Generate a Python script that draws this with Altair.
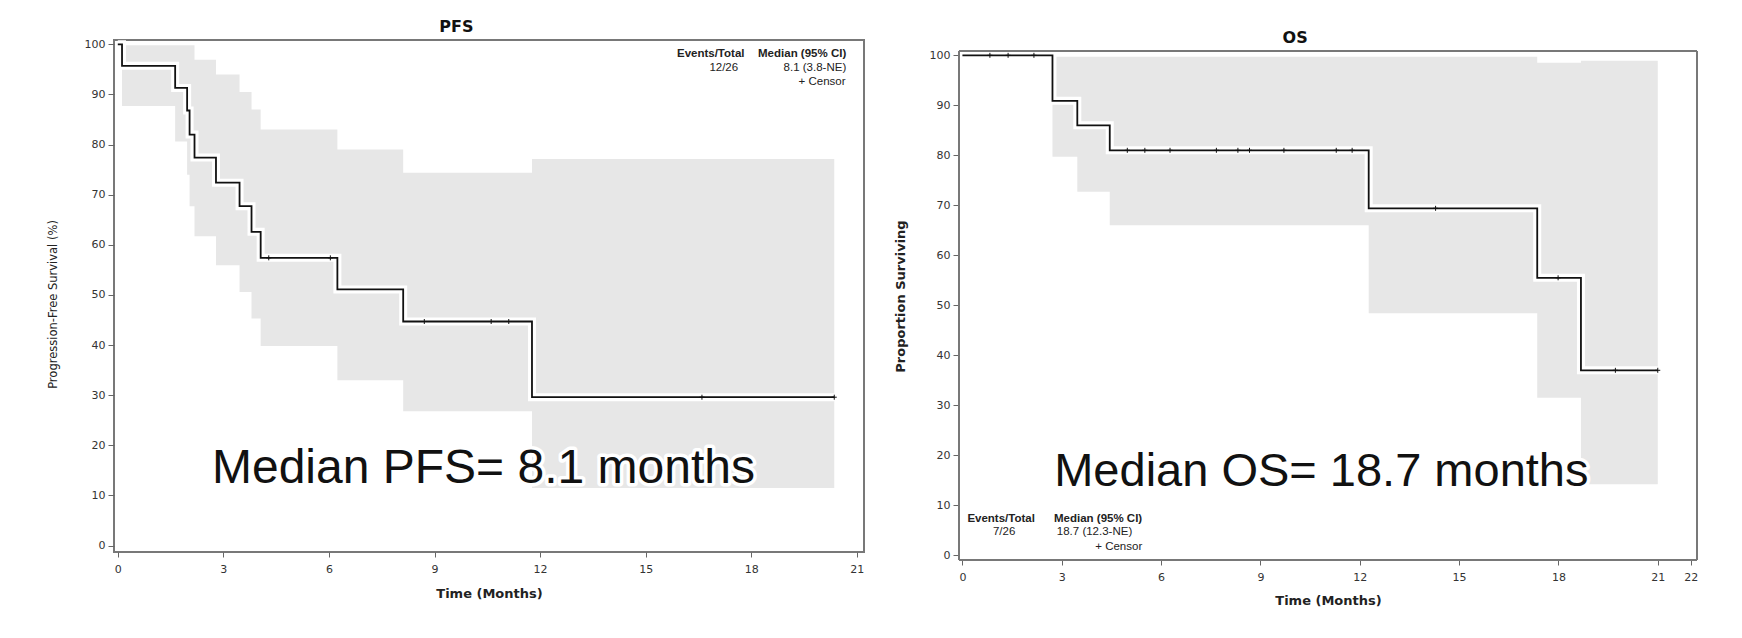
import altair as alt
import pandas as pd

# ---------------- PFS panel values ----------------
pfs_time = [0.0, 0.12, 1.63, 1.97, 2.04, 2.18, 2.79, 3.46, 3.80, 4.06, 6.24, 8.11, 11.77, 20.36]
pfs_surv = [100.0, 95.7, 91.3, 86.8, 82.0, 77.4, 72.4, 67.7, 62.6, 57.4, 51.1, 44.7, 29.6, 29.6]
pfs_ci_time = [0.12, 1.63, 1.97, 2.04, 2.18, 2.79, 3.46, 3.80, 4.06, 6.24, 8.11, 11.77, 20.36]
pfs_ci_lower = [87.7, 80.6, 74.0, 67.7, 61.7, 55.9, 50.6, 45.3, 39.8, 33.0, 26.8, 11.5, 11.5]
pfs_ci_upper = [99.8, 99.8, 99.8, 99.8, 96.9, 94.0, 90.5, 87.0, 83.0, 79.0, 74.4, 77.1, 77.1]
pfs_censor_time = [4.29, 6.04, 8.71, 10.61, 11.11, 16.6, 20.36]
pfs_censor_surv = [57.4, 57.4, 44.7, 44.7, 44.7, 29.6, 29.6]

# ---------------- OS panel values ----------------
os_time = [0.0, 2.72, 3.47, 4.45, 12.27, 17.36, 18.68, 21.0]
os_surv = [100.0, 90.9, 86.0, 81.0, 69.4, 55.5, 37.0, 37.0]
os_ci_time = [2.72, 3.47, 4.45, 12.27, 17.36, 18.68, 21.0]
os_ci_lower = [79.7, 72.7, 66.0, 48.4, 31.5, 14.2, 14.2]
os_ci_upper = [99.7, 99.7, 99.7, 99.7, 98.5, 98.9, 98.9]
os_censor_time = [0.83, 1.38, 2.16, 4.98, 5.51, 6.27, 7.67, 8.32, 8.67, 9.71, 11.29, 11.77, 14.29, 17.99, 19.72, 21.0]
os_censor_surv = [100.0, 100.0, 100.0, 81.0, 81.0, 81.0, 81.0, 81.0, 81.0, 81.0, 81.0, 81.0, 69.4, 55.5, 37.0, 37.0]

# ---------------- tick values ----------------
pfs_xticks = [0, 3, 6, 9, 12, 15, 18, 21]
os_xticks = [0, 3, 6, 9, 12, 15, 18, 21, 22]
yticks = [0, 10, 20, 30, 40, 50, 60, 70, 80, 90, 100]

# ---------------- texts ----------------
pfs_title = "PFS"
os_title = "OS"
pfs_ytitle = "Progression-Free Survival (%)"
os_ytitle = "Proportion Surviving"
xtitle = "Time (Months)"
legend_head_left = "Events/Total"
legend_head_right = "Median (95% CI)"
legend_censor = "+  Censor"
pfs_events = "12/26"
pfs_median_ci = "8.1 (3.8-NE)"
os_events = "7/26"
os_median_ci = "18.7 (12.3-NE)"
pfs_big = "Median PFS= 8.1 months"
os_big = "Median OS= 18.7 months"

# text anchor positions in data units (time, percent)
pfs_leg = {"hl": (15.89, 98.0), "hr": (20.70, 98.0), "ev": (17.22, 95.3), "md": (19.81, 95.3), "cs": (20.68, 92.5)}
os_leg = {"hl": (0.15, 7.3), "hr": (5.43, 7.3), "ev": (1.26, 4.6), "md": (3.99, 4.6), "cs": (5.43, 1.7)}
pfs_big_pos = (10.39, 12.5)
os_big_pos = (10.84, 13.8)
pfs_title_pos = (9.62, 103.45)
os_title_pos = (10.05, 103.4)

# panel axis ranges (time, percent)
pfs_xdom = [-0.108, 21.205]
pfs_ydom = [-1.28, 100.86]
os_xdom = [-0.103, 22.185]
os_ydom = [-0.94, 103.06]
os_frame_top = 100.86

FONT = "DejaVu Sans"
TFONT = "Liberation Sans"
BAND = "#e7e7e7"
FRAME = "#787878"


def panel(c_t, c_s, ci_t, ci_lo, ci_hi, cs_t, cs_s, xdom, ydom, xticks, w, h,
          title, title_pos, ytitle, ytitle_weight, ytitle_size, ytitle_x, ytitle_y, xtitle_y,
          leg, texts, big, big_pos, big_size, frame_top=None):
    xs = alt.Scale(domain=xdom, nice=False, zero=False)
    ys = alt.Scale(domain=ydom, nice=False, zero=False)
    xax = alt.Axis(values=xticks, title=xtitle, titleFont=FONT, titleFontSize=13,
                   titleFontWeight="bold", titleColor="#222", titleY=xtitle_y,
                   titleBaseline="middle", labelFont=FONT, labelFontSize=11,
                   labelColor="#333", labelPadding=6, labelAngle=0, tickColor="#666",
                   tickSize=5, domain=False, grid=False, format="d")
    yax = alt.Axis(values=yticks, title=ytitle, titleFont=FONT, titleFontSize=ytitle_size,
                   titleFontWeight=ytitle_weight, titleColor="#222", titleX=ytitle_x,
                   titleY=ytitle_y, titleBaseline="middle", labelFont=FONT,
                   labelFontSize=11, labelColor="#333", labelPadding=3, tickColor="#666",
                   tickSize=6, domain=False, grid=False, format="d")
    X = lambda f: alt.X(f, type="quantitative", scale=xs, axis=xax)
    Y = lambda f: alt.Y(f, type="quantitative", scale=ys, axis=yax)

    curve = pd.DataFrame({"t": c_t, "s": c_s})
    band = pd.DataFrame({"t": ci_t, "lo": ci_lo, "hi": ci_hi})
    cens = pd.DataFrame({"t": cs_t, "s": cs_s})

    layers = [
        alt.Chart(band).mark_area(interpolate="step-after", color=BAND).encode(
            x=X("t"), y=Y("lo"), y2="hi"),
        alt.Chart(curve).mark_line(interpolate="step-after", color="white", strokeWidth=8).encode(
            x=X("t"), y=Y("s")),
        alt.Chart(curve).mark_line(interpolate="step-after", color="#111", strokeWidth=1.8).encode(
            x=X("t"), y=Y("s")),
        alt.Chart(cens).mark_point(shape="M0,-1L0,1M-1,0L1,0", filled=False, stroke="#111",
                                   strokeWidth=1, size=25, opacity=1).encode(
            x=X("t"), y=Y("s")),
    ]
    if frame_top is not None:
        x0, x1 = xdom
        y0 = ydom[0]
        frame = pd.DataFrame({"t": [x0, x0, x1, x0], "t2": [x1, x0, x1, x1],
                              "s": [frame_top, y0, y0, y0], "s2": [frame_top, frame_top, frame_top, y0]})
        layers.append(alt.Chart(frame).mark_rule(color=FRAME, strokeWidth=2).encode(
            x=X("t"), x2="t2", y=Y("s"), y2="s2"))
    # panel title
    d = pd.DataFrame({"t": [title_pos[0]], "s": [title_pos[1]], "label": [title]})
    layers.append(alt.Chart(d).mark_text(font=FONT, fontSize=16, fontWeight="bold", align="center",
                                          baseline="middle", color="#111").encode(
        x=X("t"), y=Y("s"), text="label:N"))
    # legend block
    spec = [("hl", texts[0], "left", "bold"), ("hr", texts[1], "right", "bold"),
            ("ev", texts[2], "center", "normal"), ("md", texts[3], "center", "normal"),
            ("cs", texts[4], "right", "normal")]
    for key, txt, al, wt in spec:
        d = pd.DataFrame({"t": [leg[key][0]], "s": [leg[key][1]], "label": [txt]})
        layers.append(alt.Chart(d).mark_text(font=TFONT, fontSize=11.5, fontWeight=wt, align=al,
                                              baseline="middle", color="#222").encode(
            x=X("t"), y=Y("s"), text="label:N"))
    # big annotation with white halo
    d = pd.DataFrame({"t": [big_pos[0]], "s": [big_pos[1]], "label": [big]})
    layers.append(alt.Chart(d).mark_text(font=TFONT, fontSize=big_size, align="center",
                                          baseline="alphabetic", color="white", stroke="white",
                                          strokeWidth=7, strokeJoin="round").encode(
        x=X("t"), y=Y("s"), text="label:N"))
    layers.append(alt.Chart(d).mark_text(font=TFONT, fontSize=big_size, align="center",
                                          baseline="alphabetic", color="#111").encode(
        x=X("t"), y=Y("s"), text="label:N"))
    ch = alt.layer(*layers).properties(width=w, height=h)
    if frame_top is not None:
        ch = ch.properties(view=alt.ViewBackground(strokeWidth=0, strokeOpacity=0))
    return ch


left = panel(pfs_time, pfs_surv, pfs_ci_time, pfs_ci_lower, pfs_ci_upper,
             pfs_censor_time, pfs_censor_surv, pfs_xdom, pfs_ydom,
             pfs_xticks, 750, 512, pfs_title, pfs_title_pos,
             pfs_ytitle, "normal", 11.5, -61, 264, 41, pfs_leg,
             [legend_head_left, legend_head_right, pfs_events, pfs_median_ci, legend_censor],
             pfs_big, pfs_big_pos, 48)

right = panel(os_time, os_surv, os_ci_time, os_ci_lower, os_ci_upper,
              os_censor_time, os_censor_surv, os_xdom, os_ydom,
              os_xticks, 738, 520, os_title, os_title_pos,
              os_ytitle, "bold", 13, -59, 256, 40, os_leg,
              [legend_head_left, legend_head_right, os_events, os_median_ci, legend_censor],
              os_big, os_big_pos, 47, frame_top=os_frame_top)

chart = alt.hconcat(left, right, spacing=29).properties(
    padding={"left": 38, "top": 10, "right": 5, "bottom": 5},
    background="white",
).configure_view(stroke=FRAME, strokeWidth=2)

chart.save("out.html", embed_options={"renderer": "svg", "actions": False})
